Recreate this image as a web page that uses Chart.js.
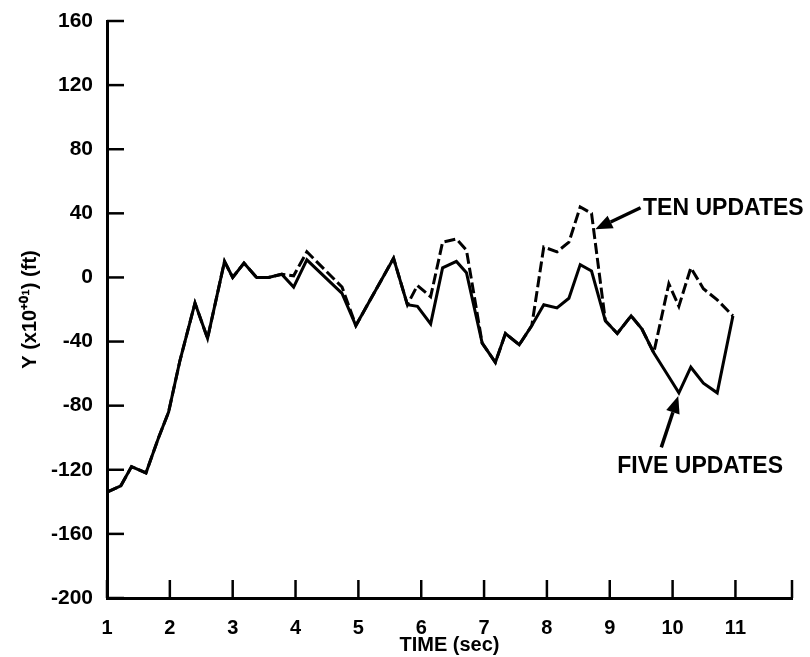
<!DOCTYPE html>
<html>
<head>
<meta charset="utf-8">
<script src="https://cdn.jsdelivr.net/npm/chart.js@4.4.1/dist/chart.umd.min.js"></script>
<style>
  html, body { margin: 0; padding: 0; background: #fff; }
  #wrap { width: 810px; height: 657px; }
</style>
</head>
<body>
<div id="wrap"><canvas id="c" width="810" height="657"></canvas></div>
<script>
// ---- data ----
const time = [1.00, 1.22, 1.39, 1.62, 1.82, 1.98, 2.16, 2.40, 2.60, 2.87, 3.00, 3.18, 3.38, 3.57, 3.78, 3.97, 4.18, 4.74, 4.96, 5.56, 5.78, 5.94, 6.15, 6.34, 6.56, 6.72, 6.97, 7.18, 7.34, 7.56, 7.76, 7.95, 8.16, 8.35, 8.53, 8.71, 8.93, 9.12, 9.34, 9.51, 9.70, 9.94, 10.10, 10.29, 10.49, 10.71, 10.96];
const fiveUpdates = [-134, -130, -118, -122, -100, -84, -52, -16, -38, 10, 0, 9, 0, 0, 2, -6, 11, -10, -30, 12, -17, -18, -29, 6, 10, 3, -41, -53, -35, -42, -30, -17, -19, -13, 8, 4, -27, -35, -24, -32, -47, -62, -72, -56, -66, -72, -24];
const tenUpdates = [-134, -130, -118, -122, -100, -84, -52, -16, -38, 10, 0, 9, 0, 0, 2, 1, 16, -6, -30, 12, -17, -5, -12, 22, 24, 17, -41, -53, -35, -42, -30, 19, 16, 22, 44, 40, -27, -35, -24, -32, -47, -4, -18, 6, -7, -14, -24];
const xTickValues = [1, 2, 3, 4, 5, 6, 7, 8, 9, 10, 11, 11.9];
const xTickLabels = ['1', '2', '3', '4', '5', '6', '7', '8', '9', '10', '11', ''];
const yTickValues = [-200, -160, -120, -80, -40, 0, 40, 80, 120, 160];
const xTitle = 'TIME (sec)';
const yTitle = 'Y (x10\u207A\u2070\u00B9) (ft)';
const labelTen = 'TEN UPDATES';
const labelFive = 'FIVE UPDATES';

const FONT = '"Liberation Sans", Arial, Helvetica, sans-serif';

// annotations anchored in data space
const notes = [
  { text: labelTen, tx: 9.53, ty: 43, arrowFrom: [9.49, 43.5], arrowTo: [8.77, 30] },
  { text: labelFive, tx: 9.12, ty: -118, arrowFrom: [9.82, -106], arrowTo: [10.09, -74] }
];

const inwardTicks = {
  id: 'inwardTicks',
  afterDraw(chart) {
    const { ctx, scales: { x, y }, chartArea } = chart;
    ctx.save();
    ctx.strokeStyle = '#000';
    ctx.lineWidth = 2.5;
    x.ticks.forEach(t => {
      const px = x.getPixelForValue(t.value);
      ctx.beginPath();
      ctx.moveTo(px, chartArea.bottom);
      ctx.lineTo(px, chartArea.bottom - 18);
      ctx.stroke();
    });
    y.ticks.forEach(t => {
      const py = y.getPixelForValue(t.value);
      ctx.beginPath();
      ctx.moveTo(chartArea.left, py);
      ctx.lineTo(chartArea.left + 17, py);
      ctx.stroke();
    });
    ctx.restore();
  }
};

const annotate = {
  id: 'annotate',
  afterDraw(chart) {
    const { ctx, scales: { x, y } } = chart;
    ctx.save();
    ctx.fillStyle = '#000';
    ctx.strokeStyle = '#000';
    ctx.font = 'bold 23px ' + FONT;
    ctx.textBaseline = 'middle';
    ctx.textAlign = 'left';
    notes.forEach(n => {
      ctx.fillText(n.text, x.getPixelForValue(n.tx), y.getPixelForValue(n.ty));
      const x1 = x.getPixelForValue(n.arrowFrom[0]), y1 = y.getPixelForValue(n.arrowFrom[1]);
      const x2 = x.getPixelForValue(n.arrowTo[0]), y2 = y.getPixelForValue(n.arrowTo[1]);
      const ang = Math.atan2(y2 - y1, x2 - x1);
      const hl = 17, hw = 7;
      const bx = x2 - hl * Math.cos(ang), by = y2 - hl * Math.sin(ang);
      ctx.lineWidth = 3.5;
      ctx.beginPath();
      ctx.moveTo(x1, y1);
      ctx.lineTo(bx, by);
      ctx.stroke();
      ctx.beginPath();
      ctx.moveTo(x2, y2);
      ctx.lineTo(bx + hw * Math.sin(ang), by - hw * Math.cos(ang));
      ctx.lineTo(bx - hw * Math.sin(ang), by + hw * Math.cos(ang));
      ctx.closePath();
      ctx.fill();
    });
    ctx.restore();
  }
};

const toPoints = arr => arr.map((v, i) => ({ x: time[i], y: v }));

new Chart(document.getElementById('c'), {
  type: 'line',
  data: {
    datasets: [
      {
        label: labelFive,
        data: toPoints(fiveUpdates),
        borderColor: '#000',
        borderWidth: 3,
        pointRadius: 0,
        tension: 0,
        fill: false
      },
      {
        label: labelTen,
        data: toPoints(tenUpdates),
        borderColor: '#000',
        borderWidth: 3,
        borderDash: [11, 4],
        pointRadius: 0,
        tension: 0,
        fill: false
      }
    ]
  },
  options: {
    responsive: false,
    animation: false,
    events: [],
    layout: { padding: { left: 0, top: 21, right: 18, bottom: 0 } },
    plugins: { legend: { display: false }, tooltip: { enabled: false } },
    scales: {
      x: {
        type: 'linear',
        min: 1,
        max: 11.9,
        afterBuildTicks: s => { s.ticks = xTickValues.map(v => ({ value: v })); },
        afterFit: s => { s.height = 59; },
        grid: { display: false },
        border: { display: true, color: '#000', width: 3 },
        ticks: {
          color: '#000',
          padding: 10,
          maxRotation: 0,
          autoSkip: false,
          font: { family: FONT, size: 20, weight: 'bold' },
          callback: (v, i) => xTickLabels[i]
        },
        title: {
          display: true,
          text: xTitle,
          color: '#000',
          padding: { top: 0, bottom: 0 },
          font: { family: FONT, size: 20, weight: 'bold' }
        }
      },
      y: {
        type: 'linear',
        min: -200,
        max: 160,
        afterBuildTicks: s => { s.ticks = yTickValues.map(v => ({ value: v })); },
        afterFit: s => { s.width = 107; },
        grid: { display: false },
        border: { display: true, color: '#000', width: 3 },
        ticks: {
          color: '#000',
          padding: 6,
          autoSkip: false,
          font: { family: FONT, size: 21, weight: 'bold' },
          callback: v => String(v)
        },
        title: {
          display: true,
          text: yTitle,
          color: '#000',
          padding: { top: 18, bottom: 0 },
          font: { family: FONT, size: 20, weight: 'bold' }
        }
      }
    }
  },
  plugins: [inwardTicks, annotate]
});
</script>
</body>
</html>
